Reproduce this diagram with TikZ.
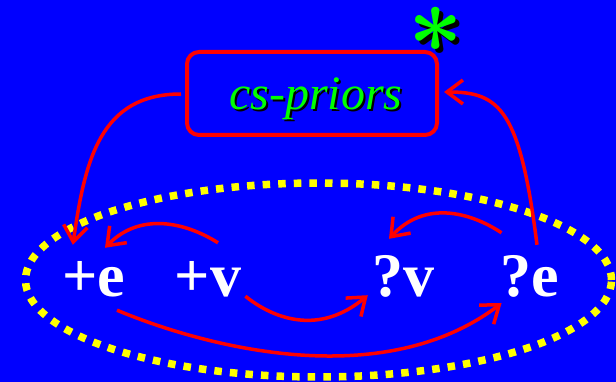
\documentclass[tikz,border=0pt]{standalone}
\usepackage{fontspec}
\setmainfont{Liberation Serif}
\newfontfamily\starfont{lmroman10-bold.otf}
\usepackage{tikz}
\usetikzlibrary{arrows.meta,shapes.geometric}
\definecolor{slideblue}{HTML}{0000FF}
\definecolor{boxred}{HTML}{FF0000}
\definecolor{priorgreen}{HTML}{00FF00}
\definecolor{dotyellow}{HTML}{FFFF00}

\begin{document}
\begin{tikzpicture}[x=1pt,y=-1pt,
 term/.style={text=white,font=\fontsize{62}{62}\selectfont\bfseries,anchor=base,inner sep=0pt,text height=44pt,text depth=0pt},
 prior/.style={font=\fontsize{48}{48}\selectfont\itshape,anchor=base,inner sep=0pt},
 star/.style={font=\starfont\fontsize{95}{95}\selectfont,inner sep=0pt,anchor=base},
 arr/.style={-{Straight Barb[length=16pt,width=24pt]},line width=3.5pt,boxred}
]
\useasboundingbox (0,0) rectangle (616,382);
\fill[slideblue] (0,0) rectangle (616,382);
\node[ellipse,draw=dotyellow,line width=7.5pt,dash pattern=on 7.5pt off 8.1pt,minimum width=586pt,minimum height=194pt,inner sep=0pt] (hull) at (318.5,280) {};
\node[draw=boxred,line width=4pt,rounded corners=12pt,minimum width=250pt,minimum height=83pt] (priors) at (312,93.5) {};
\node[prior,text=black] (priorshade) at (318,112) {cs-priors};
\node[prior,text=priorgreen] (priortext) at (316,110) {cs-priors};
\node[star,text=black] (starshade) at (440,83) {*};
\node[star,text=priorgreen] (starmark) at (436,79) {*};

\node[term] (pe) at (93.5,296) {+e};
\node[term] (pv) at (208,296) {+v};
\node[term] (qv) at (403.5,296) {?v};
\node[term] (qe) at (530,296) {?e};

\draw[arr] ([shift={(-4,0.5)}]priors.west) .. controls (100,94) and (85,160) .. ([shift={(11,-7)}]pe.north west);
\draw[arr] ([shift={(7,-7)}]qe.north) .. controls (520,110) and (500,92) .. ([shift={(5,-1.5)}]priors.east);
\draw[arr] ([shift={(10,-9)}]pv.north) .. controls (185,222) and (140,212) .. ([shift={(11.5,-4)}]pe.north);
\draw[arr] ([shift={(1,-19)}]qe.north west) .. controls (470,212) and (425,200) .. ([shift={(-14.5,-13)}]qv.north);
\draw[arr] ([shift={(4,0)}]pv.south east) .. controls (275,320) and (320,335) .. ([shift={(-4.5,-1)}]qv.south west);
\draw[arr] ([shift={(23.5,14)}]pe.south) .. controls (200,345) and (380,395) .. ([shift={(1,7)}]qe.south west);
\end{tikzpicture}
\end{document}
